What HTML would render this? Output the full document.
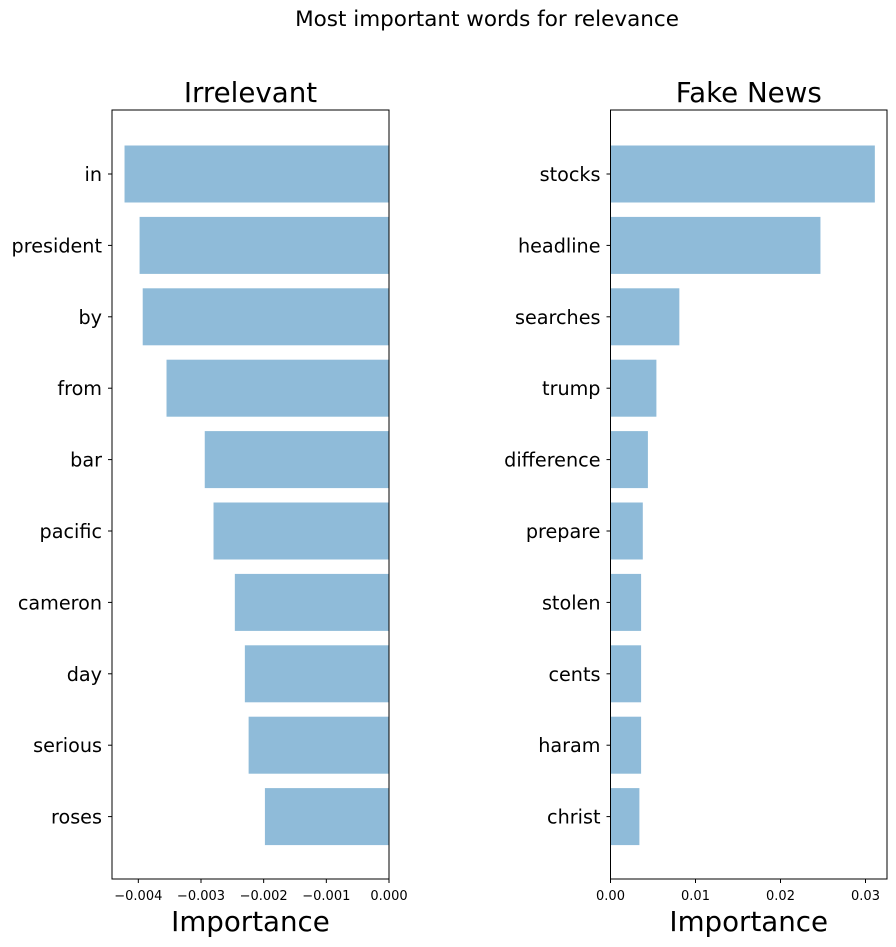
<!DOCTYPE html>
<html><head><meta charset="utf-8"><style>
body{margin:0;background:#fff;}
svg{display:block;font-family:"DejaVu Sans","Liberation Sans",sans-serif;}
</style></head><body>
<svg id="chart" width="896" height="947"></svg>
<script>
const leftWords=["in","president","by","from","bar","pacific","cameron","day","serious","roses"];
const leftValues=[-0.00422,-0.00398,-0.00393,-0.00355,-0.00294,-0.0028,-0.00246,-0.0023,-0.00224,-0.00198];
const leftTicks=[-0.004,-0.003,-0.002,-0.001,0];
const leftTickLabels=["−0.004","−0.003","−0.002","−0.001","0.000"];
const rightWords=["stocks","headline","searches","trump","difference","prepare","stolen","cents","haram","christ"];
const rightValues=[0.0311,0.0247,0.0081,0.0054,0.0044,0.0038,0.0036,0.0036,0.0036,0.0034];
const rightTicks=[0,0.01,0.02,0.03];
const rightTickLabels=["0.00","0.01","0.02","0.03"];

const NS="http://www.w3.org/2000/svg";
const svg=document.getElementById('chart');
function mk(tag,attrs,parent,text){const e=document.createElementNS(NS,tag);for(const k in attrs)e.setAttribute(k,attrs[k]);if(text!==undefined)e.textContent=text;(parent||svg).appendChild(e);return e;}

const sup=mk('text',{x:487,y:26,'font-size':21.5,'text-anchor':'middle'},svg,"Most important words for relevance");



function panel(name,x0,x1,dmin,dmax,words,values,ticks,labels,title){
  const y0=110,y1=879;
  const g=mk('g',{});
  
  
  const sx=v=>x0+(v-dmin)/(dmax-dmin)*(x1-x0);
  const sy=i=>174+i*71.4;
  words.forEach((w,i)=>{
    const a=sx(Math.min(0,values[i])),b=sx(Math.max(0,values[i]));
    const r=mk('rect',{x:a,y:sy(i)-28.5,width:b-a,height:57,fill:'#8fbbd9'},g);
    
    
    mk('line',{x1:x0-4,x2:x0,y1:sy(i),y2:sy(i),stroke:'#000','stroke-width':1},g);
    const t=mk('text',{x:x0-10,y:sy(i)+7,'font-size':19.2,'text-anchor':'end'},g,w);
    
    
  });
  const fr=mk('rect',{x:x0,y:y0,width:x1-x0,height:y1-y0,fill:'none',stroke:'#000','stroke-width':1},g);
  
  
  ticks.forEach((v,i)=>{
    mk('line',{x1:sx(v),x2:sx(v),y1:y1,y2:y1+4,stroke:'#000'},g);
    const t=mk('text',{x:sx(v),y:y1+21,'font-size':13,'text-anchor':'middle'},g,labels[i]);
    
    
  });
  const tt=mk('text',{x:(x0+x1)/2,y:102,'font-size':27.7,'text-anchor':'middle'},g,title);
  
  
  const xl=mk('text',{x:(x0+x1)/2,y:931,'font-size':27.7,'text-anchor':'middle'},g,"Importance");
  
  
}
panel('irrelevant',112,389,-0.00442,0,leftWords,leftValues,leftTicks,leftTickLabels,"Irrelevant");
panel('fake-news',610.5,887,0,0.03253,rightWords,rightValues,rightTicks,rightTickLabels,"Fake News");
</script>
</body></html>
